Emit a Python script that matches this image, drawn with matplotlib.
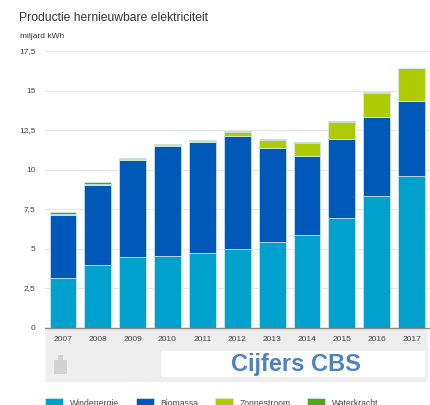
import matplotlib
matplotlib.use('Agg')
import matplotlib.pyplot as plt
import numpy as np
from matplotlib.patches import FancyBboxPatch, Rectangle

plt.rcParams['font.family'] = ['Liberation Sans', 'DejaVu Sans']

W, H = 431, 405

years = ['2007', '2008', '2009', '2010', '2011', '2012', '2013', '2014', '2015', '2016', '2017']
wind = [3.15, 3.95, 4.45, 4.5, 4.7, 4.95, 5.4, 5.85, 6.9, 8.35, 9.6]
biomassa = [4.0, 5.1, 6.15, 7.0, 7.05, 7.2, 5.95, 5.0, 5.0, 5.0, 4.75]
zon = [0.05, 0.05, 0.05, 0.05, 0.06, 0.25, 0.5, 0.85, 1.1, 1.5, 2.05]
water = [0.1, 0.1, 0.08, 0.08, 0.08, 0.06, 0.05, 0.05, 0.05, 0.05, 0.05]

series = [('Windenergie', wind, '#00a1cd'), ('Biomassa', biomassa, '#0058b8'),
          ('Zonnestroom', zon, '#afcb05'), ('Waterkracht', water, '#53a31d')]

y_ticks = [0, 2.5, 5, 7.5, 10, 12.5, 15, 17.5]
y_labels = ['0', '2,5', '5', '7,5', '10', '12,5', '15', '17,5']

fig = plt.figure(figsize=(W / 100, H / 100), dpi=100)
ax = fig.add_axes([45.5 / W, 1 - 327.5 / H, 383.5 / W, 276.5 / H])

# grijze band onder de as, met het witte vak erin
fig.add_artist(FancyBboxPatch((47 / W, 1 - 380.5 / H), 379 / W, 50.5 / H,
                              boxstyle='round,pad=0.004', transform=fig.transFigure,
                              fc='#eeeeee', ec='none', zorder=0))
fig.add_artist(Rectangle((161 / W, 1 - 377 / H), 264 / W, 26 / H, transform=fig.transFigure,
                         fc='white', ec='none', zorder=1))
fig.add_artist(Rectangle((54 / W, 1 - 374 / H), 13 / W, 14 / H, transform=fig.transFigure,
                         fc='#d2d2d2', ec='none', zorder=1))
fig.add_artist(Rectangle((58 / W, 1 - 361 / H), 5 / W, 6 / H, transform=fig.transFigure,
                         fc='#d2d2d2', ec='none', zorder=1))

x = np.arange(len(years))
bottom = np.zeros(len(years))
handles = []
for name, vals, col in series:
    b = ax.bar(x, vals, 0.77, bottom=bottom, color=col, edgecolor='#d5ecf2', linewidth=0.5,
               label=name, zorder=3)
    handles.append(b)
    bottom += np.array(vals)

ax.set_xlim(-0.5, 10.5)
ax.set_ylim(0, 17.5)
ax.patch.set_alpha(0)
ax.set_yticks(y_ticks)
ax.set_yticklabels(y_labels)
ax.set_xticks(x)
ax.set_xticklabels(years)
ax.tick_params(axis='both', length=0, labelsize=6, colors='#444444')
ax.tick_params(axis='y', pad=7)
ax.tick_params(axis='x', pad=6)
ax.grid(axis='y', color='#e6e6e6', linewidth=0.8, zorder=0)
for s in ['top', 'right', 'left']:
    ax.spines[s].set_visible(False)
ax.spines['bottom'].set_color('#888888')
ax.spines['bottom'].set_linewidth(1)

fig.text(19 / W, 1 - 18 / H, 'Productie hernieuwbare elektriciteit', fontsize=8.7,
         color='#333333', va='center')
fig.text(20 / W, 1 - 36.5 / H, 'miljard kWh', fontsize=6, color='#333333', va='center')
fig.text(296 / W, 1 - 364 / H, 'Cijfers CBS', fontsize=17, fontweight='bold',
         color='#4f81bd', ha='center', va='center', zorder=5)

fig.legend(handles=handles, loc='center left', bbox_to_anchor=(45 / W, 1 - 403 / H),
           ncol=4, frameon=False, fontsize=6.2, labelcolor='#444444', borderpad=0, borderaxespad=0,
           handlelength=2.1, handleheight=1.1, handletextpad=0.8, columnspacing=1.9)

fig.savefig('out.png', dpi=100)
